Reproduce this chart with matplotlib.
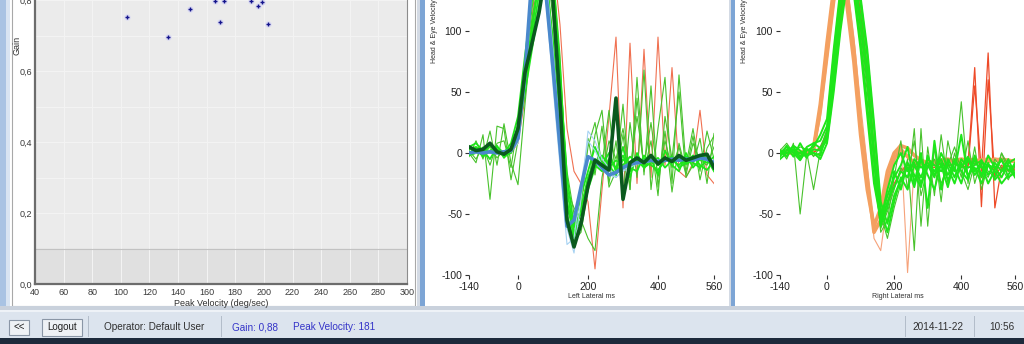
import matplotlib
matplotlib.use("Agg")
import matplotlib.pyplot as plt
from matplotlib.patches import Rectangle

plt.rcParams['font.family'] = ['Liberation Sans', 'DejaVu Sans']
plt.rcParams['axes.unicode_minus'] = False

W, H = 1024, 344

# ---- scatter data: peak velocity vs gain ----
PEAK_VEL = [104.5, 133, 148, 166, 172, 169, 191, 196, 199, 203]
GAIN = [0.752, 0.696, 0.774, 0.797, 0.797, 0.738, 0.797, 0.783, 0.794, 0.732]
GAIN_TICKS = [0.0, 0.2, 0.4, 0.6, 0.8]
GAIN_LABELS = ['0,0', '0,2', '0,4', '0,6', '0,8']
VEL_TICKS = list(range(40, 301, 20))

# ---- impulse traces, one value every 20 ms from -140 to 560 ----
T = list(range(-140, 561, 20))
T_TICKS = [-140, 0, 200, 400, 560]
V_TICKS = [-100, -50, 0, 50, 100]

# left lateral
L_HEAD = [0, 1, 0, 1, 0, 1, 2, 12, 65, 145, 180, 130, 70, 5, -60, -55, -28, -3,
          -6, -12, -18, -16, -12, -9, -8, -7, -6, -7, -6, -5, -6, -5, -6, -4, -5, -8]
L_HEAD_B = [0, 0, 1, 0, 1, 0, 1, 8, 55, 135, 178, 145, 85, 15, -62, -82, -38, 18,
            10, -5, -12, -20, -14, -10, -8, -7, -6, -6, -5, -5, -6, -5, -5, -4, -5, -6]
L_HEAD_C = [1, 0, 0, 1, 0, 0, 2, 15, 70, 150, 175, 125, 55, -10, -75, -70, -25, 10,
            2, -10, -18, -20, -15, -12, -9, -8, -7, -7, -6, -5, -6, -6, -5, -5, -6, -7]
L_EYE = [5, 2, 3, 8, 1, -1, 3, 20, 66, 90, 115, 150, 125, 42, -55, -77, -58, -27,
         -6, -10, -14, 45, -38, -8, -4, -8, -2, -9, -4, -7, -2, -6, -4, -2, -1, -12]
L_GREEN_1 = [0, -8, 15, -38, 22, 20, -22, 10, 70, 118, 160, 150, 95, 12, -40, -62, -45, 12,
             -18, 22, -28, -15, 40, -30, 62, -18, 55, -28, 18, -32, 8, -15, 14, -22, 4, 14]
L_GREEN_2 = [3, 5, 0, 6, 2, -2, 5, 22, 60, 95, 130, 165, 130, 50, -40, -70, -45, -20,
             -5, -8, -12, -6, -10, -3, -8, -5, -2, -10, -5, -8, -4, -9, -6, -3, -2, -10]
L_GREEN_3 = [-2, 0, 4, 0, 3, -3, 0, 15, 50, 85, 120, 160, 140, 65, -20, -60, -50, -25,
             -10, -15, -5, -12, -2, -15, -6, -12, -8, -4, -12, -6, -10, -3, -8, -12, -5, -15]
L_GREEN_4 = [2, -5, 5, -10, 8, 10, -12, 25, 75, 110, 145, 160, 110, 30, -50, -72, -65, -30,
             15, 35, -25, 10, -35, 25, -20, 68, -30, 20, 62, -25, 64, -10, 20, -15, 18, -5]
L_GREEN_5 = [0, 3, -2, 5, -4, 2, 0, 18, 55, 100, 140, 170, 150, 80, -30, -45, -55, -70,
             -80, -20, 10, -5, 20, -15, 30, -10, 25, -20, 10, -12, 5, -18, 8, -6, -10, 5]
L_GREEN_6 = [5, 8, 2, -5, 5, 0, 8, 30, 80, 125, 155, 145, 90, 20, -45, -60, -35, -15,
             5, -10, 0, -15, 5, -20, 0, -12, -5, -18, 2, -10, -15, 0, -12, -5, -8, -3]
L_GREEN_7 = [-3, 10, -5, 18, -10, 24, -8, -26, 40, 100, 150, 175, 135, 60, -15, -50, -40, 5,
             25, -10, 35, -20, 15, -30, 45, -15, 10, -35, 30, -5, 50, -20, -10, 12, -25, 16]
L_GREEN_8 = [0, 4, -3, 2, 6, -4, 3, 12, 58, 105, 140, 170, 145, 70, -30, -65, -55, -30,
             -12, -2, -10, -18, -5, -12, -15, -2, -10, -14, -6, -3, -12, -8, -2, -10, -14, -6]
L_RED = [0, 2, -1, 1, 0, 2, 0, 8, 45, 110, 170, 195, 160, 105, 20, -15, -25, -40,
         -95, -30, 30, 95, -45, 90, -25, 85, -20, 95, -10, 70, -15, -20, -8, 35, -18, -25]

# right lateral
R_HEAD_A = [0, 1, 0, 0, 1, 3, 35, 80, 125, 165, 130, 85, 25, -20, -65, -55, -25, -5,
            3, -3, -8, -9, -7, -8, -6, -7, -6, -5, -6, -7, -6, -5, -6, -5, -6, -7]
R_HEAD_B = [0, 0, 1, 0, 0, 2, 28, 75, 120, 160, 140, 95, 40, -10, -70, -80, -40, 0,
            8, -98, -10, -5, -8, -6, -7, -5, -6, -8, -5, -6, -7, -5, -6, -6, -5, -6]
R_HEAD_C = [1, 0, 0, 1, 0, 4, 40, 90, 135, 168, 120, 75, 15, -30, -60, -45, -15, 0,
            6, 4, -2, -6, -8, -7, -6, -5, -7, -6, -5, -6, -6, -7, -5, -6, -7, -6]
R_GREEN_1 = [0, 5, -3, 8, -2, 3, 2, 14, 65, 118, 150, 150, 110, 65, 0, -60, -40, -28,
             -15, -20, -5, -12, -8, -15, -5, -18, -8, -12, -3, -15, -8, -10, -12, -6, -14, -10]
R_GREEN_2 = [3, -5, 8, -50, 0, -30, 2, 20, 75, 125, 155, 140, 95, 50, -10, -65, -55, -20,
             10, -30, 20, -60, 5, -35, 15, -25, 0, -20, 10, -25, -5, -15, -20, 0, -10, -15]
R_GREEN_3 = [-2, 2, 5, -3, 5, 8, 10, 22, 80, 130, 160, 135, 90, 40, -20, -55, -35, -20,
             -10, 5, -25, 0, -45, 10, -30, -5, -15, 15, -20, -5, -18, -2, -12, -20, -8, -5]
R_GREEN_4 = [0, 0, 2, 0, -2, 0, -5, 8, 50, 100, 140, 160, 125, 80, 20, -45, -65, -40,
             -20, -30, -10, -20, -5, -10, -15, -8, -20, -5, -12, -10, -6, -18, -8, -15, -10, -20]
R_GREEN_5 = [2, 8, 0, 5, 3, -2, 0, 12, 60, 110, 148, 155, 120, 70, 5, -50, -70, -45,
             -25, -5, -80, 20, -60, 5, -40, 10, -15, 42, -25, 5, -30, -10, -20, 0, -15, -12]
R_GREEN_6 = [-5, 0, 3, -5, 2, 5, 15, 28, 85, 135, 158, 130, 85, 30, -25, -55, -30, -10,
             0, -15, -8, -25, -10, -20, 0, -12, -25, -8, -18, -12, -25, -10, -15, -25, -18, -8]
R_GREEN_7 = [0, 3, -2, 0, 4, -3, 5, 18, 70, 120, 152, 145, 100, 55, -5, -62, -48, -30,
             -12, -20, 10, -35, -12, -5, -25, -10, 5, -15, -30, -8, -12, -20, -5, -12, -22, -10]
R_GREEN_8 = [2, -3, 6, 2, -4, 8, 4, 10, 55, 105, 145, 158, 128, 85, 25, -40, -58, -35,
             -22, -12, -28, -5, -18, -30, -8, -22, -12, -25, -5, -18, -10, -25, -14, -5, -20, -16]
R_GREEN_9 = [-3, 6, 0, -6, 3, 0, -2, 16, 72, 122, 154, 142, 105, 60, -2, -58, -45, -15,
             -30, -8, -18, -28, -2, -18, -10, -28, -5, -15, -22, -2, -20, -8, -22, -15, -5, -18]
R_RED_1 = [0, 1, 0, 0, 1, 0, 5, 15, 65, 115, 150, 150, 110, 65, 0, -55, -40, -25,
           -15, -12, -10, -8, -10, -12, -8, -10, -9, -12, -10, 70, -44, 60, -20, -10, -15, -12]
R_RED_2 = [0, 0, 1, 0, 0, 1, 3, 12, 62, 112, 148, 152, 115, 70, 5, -58, -42, -28,
           -14, -10, -12, -9, -11, -10, -9, -11, -8, -10, -12, 55, -15, 82, -45, -12, -10, -14]

LIME = '#1ee61a'
MID_GREEN = '#48c22c'


def px_box(x0, y0, x1, y1, fc, ec='none', lw=0, z=-10):
    fig.add_artist(Rectangle((x0 / W, 1 - y1 / H), (x1 - x0) / W, (y1 - y0) / H,
                             transform=fig.transFigure, fc=fc, ec=ec, lw=lw, zorder=z))


def px_text(x, y, s, **kw):
    fig.text(x / W, 1 - y / H, s, **kw)


fig = plt.figure(figsize=(W / 100, H / 100), dpi=100)
fig.patch.set_facecolor('white')

# window chrome
px_box(0, 0, 6, 310, '#a9c3e3')
px_box(6, 0, 10, 310, '#d8e4f2')
px_box(12, -5, 415, 306, 'white', ec='#a8a8a8', lw=0.8)
px_box(417, 0, 420, 308, '#d3dae4')
px_box(420, 0, 425, 308, '#7da5d5')
px_box(729, 0, 731, 308, '#d3dae4')
px_box(731, 0, 735, 308, '#7da5d5')
px_box(0, 306, 1024, 310, '#c9d1dc')
px_box(0, 310, 1024, 338, '#dce4ee')
px_box(0, 310, 1024, 312, '#eef2f7')
px_box(0, 338, 1024, 344, '#1d2a3b')

# status bar
px_box(9, 320, 29, 335, '#eef1f5', ec='#8a96a6', lw=0.8, z=-5)
px_box(42, 319, 82, 336, '#eef1f5', ec='#8a96a6', lw=0.8, z=-5)
for xs in [88, 221, 905, 974]:
    px_box(xs, 316, xs + 1, 337, '#b3bdca', z=-5)
px_text(19, 327, '<<', ha='center', va='center', fontsize=7, color='#202020')
px_text(62, 327.5, 'Logout', ha='center', va='center', fontsize=7, color='#202020')
px_text(154, 327, 'Operator: Default User', ha='center', va='center', fontsize=7.2, color='#303030')
px_text(232, 327, 'Gain: 0,88', ha='left', va='center', fontsize=7.2, color='#3434c8')
px_text(293, 327, 'Peak Velocity: 181', ha='left', va='center', fontsize=7.2, color='#3434c8')
px_text(938, 327, '2014-11-22', ha='center', va='center', fontsize=7.2, color='#303030')
px_text(1002, 327, '10:56', ha='center', va='center', fontsize=7.2, color='#303030')

# ---- scatter panel ----
ax1 = fig.add_axes([35 / W, 1 - 284 / H, (407 - 35) / W, 284 / H])
ax1.set_facecolor('#ebebeb')
ax1.set_xlim(40, 300)
ax1.set_ylim(0, 0.797)
ax1.axhspan(0, 0.1, color='#e0e0e0', zorder=0.5)
ax1.axhline(0.1, color='#c2c2c2', lw=0.8, zorder=0.6)
ax1.set_xticks(VEL_TICKS)
ax1.set_yticks(GAIN_TICKS)
ax1.set_yticklabels(GAIN_LABELS)
ax1.set_yticks([0.1, 0.3, 0.5, 0.7], minor=True)
ax1.grid(True, which='both', color='#f4f4f4', lw=0.7, zorder=0.4)
ax1.set_axisbelow(True)
ax1.tick_params(which='both', length=0, pad=2, labelsize=6.5, labelcolor='#3a3a3a')
ax1.tick_params(axis='x', pad=3)
for side in ['left', 'bottom']:
    ax1.spines[side].set_color('#6c6c6c')
    ax1.spines[side].set_linewidth(1.6)
ax1.spines['right'].set_color('#8c8c8c')
ax1.spines['top'].set_visible(False)
ax1.scatter(PEAK_VEL, GAIN, s=22, color='#dcdcf2', lw=0, zorder=3)
ax1.scatter(PEAK_VEL, GAIN, s=10, marker='+', color='#14148c', lw=1.0, zorder=4)
ax1.set_xlabel('Peak Velocity (deg/sec)', fontsize=6.5, color='#303030', labelpad=1)
px_text(17, 45, 'Gain', rotation=90, ha='center', va='center', fontsize=6.5, color='#303030')


def impulse_axes(left, right, xlabel, ylab_x):
    ax = fig.add_axes([left / W, 1 - 275 / H, (right - left) / W, 275 / H])
    ax.set_facecolor('none')
    ax.set_xlim(-140, 560)
    ax.set_ylim(-100, 125.4)
    for s in ax.spines.values():
        s.set_visible(False)
    ax.set_xticks(T_TICKS)
    ax.set_yticks(V_TICKS)
    ax.tick_params(direction='out', length=3, width=0.8, color='#333333',
                   labelsize=7.5, labelcolor='#222222', pad=2)
    ax.set_xlabel(xlabel, fontsize=5, color='#303030', labelpad=1)
    px_text(ylab_x, 31, 'Head & Eye Velocity', rotation=90, ha='center', va='center',
            fontsize=5, color='#303030')
    return ax


# ---- left lateral ----
ax2 = impulse_axes(469, 714, 'Left Lateral ms', 434)
ax2.plot(T, L_RED, color='#f07050', lw=0.8)
for tr in [L_GREEN_1, L_GREEN_4, L_GREEN_5, L_GREEN_7]:
    ax2.plot(T, tr, color=MID_GREEN, lw=0.8)
for tr in [L_GREEN_2, L_GREEN_3, L_GREEN_6, L_GREEN_8]:
    ax2.plot(T, tr, color=LIME, lw=1.3)
for tr in [L_HEAD_B, L_HEAD_C]:
    ax2.plot(T, tr, color='#a6d2f2', lw=0.8)
ax2.plot(T, L_HEAD, color='#4a88cc', lw=2.6)
ax2.plot(T, L_EYE, color='#0b5a1e', lw=2.6)

# ---- right lateral ----
ax3 = impulse_axes(780, 1015, 'Right Lateral ms', 745)
for tr in [R_RED_1, R_RED_2]:
    ax3.plot(T, tr, color='#ee4a28', lw=0.9)
ax3.plot(T, R_HEAD_B, color='#f6a27a', lw=0.8)
for tr in [R_HEAD_A, R_HEAD_C]:
    ax3.plot(T, tr, color='#f4a060', lw=2.6)
for tr in [R_GREEN_2, R_GREEN_5, R_GREEN_7]:
    ax3.plot(T, tr, color=MID_GREEN, lw=0.8)
for tr in [R_GREEN_1, R_GREEN_3, R_GREEN_4, R_GREEN_6, R_GREEN_8, R_GREEN_9]:
    ax3.plot(T, tr, color=LIME, lw=1.4)

fig.savefig('out.png', dpi=100)
